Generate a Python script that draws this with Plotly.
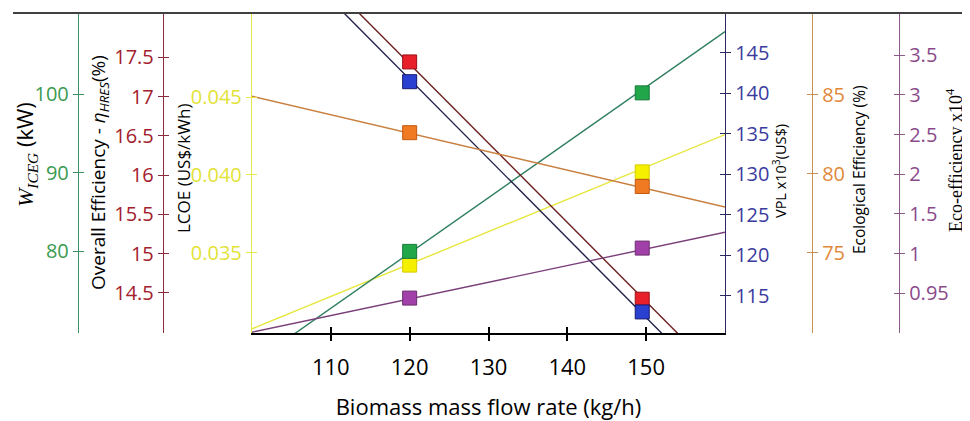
import plotly.graph_objects as go

# ---------------- data ----------------
x_points = [120, 149.5]          # biomass mass flow rate (kg/h) of the two cases
x_line = [100, 160]              # trend-line span (read at the plot edges)

W_iceg = [80.0, 100.2]           # kW
W_iceg_line = [65.7, 108.0]

eta_hres = [17.44, 14.42]        # %
eta_hres_line = [19.43, 13.38]

lcoe = [0.0342, 0.0402]          # US$/kWh
lcoe_line = [0.0301, 0.0426]

vpl = [141.4, 113.0]             # x10^3 US$
vpl_line = [161.3, 102.5]

ecol_eff = [82.6, 79.2]          # %
ecol_eff_line = [84.9, 77.9]

eco_eff = [0.44, 1.07]           # x10^4 (axis coordinate)
eco_eff_line = [0.01, 1.27]

x_ticks = [110, 120, 130, 140, 150]
W_ticks = [80, 90, 100]
eta_ticks = [14.5, 15, 15.5, 16, 16.5, 17, 17.5]
lcoe_ticks = [0.035, 0.040, 0.045]
lcoe_ticktext = ["0.035", "0.040", "0.045"]
vpl_ticks = [115, 120, 125, 130, 135, 140, 145]
ecol_ticks = [75, 80, 85]
eco_ticks = [0.5, 1, 1.5, 2, 2.5, 3, 3.5]
eco_ticktext = ["0.95", "1", "1.5", "2", "2.5", "3", "3.5"]

# ---------------- geometry (page body has an 8px margin) ----------------
OFF = 8
W, H = 970 - OFF, 421 - OFF
TOP, BOTTOM = 14 - OFF, 333 - OFF
PH = BOTTOM - TOP
px = lambda x: (x - OFF) / W
py = lambda y: (BOTTOM - (y - OFF)) / PH
FONT = "Open Sans"

fig = go.Figure()

series = [
    # yaxis, points, line, marker fill, marker outline, line colour
    ("y",  lcoe,     lcoe_line,     "#f5ef00", "#d8cc00", "#e6e63c"),
    ("y2", W_iceg,   W_iceg_line,   "#22a64a", "#17783a", "#2f7f5f"),
    ("y3", eta_hres, eta_hres_line, "#e8202a", "#9a1018", "#6a1f1f"),
    ("y4", vpl,      vpl_line,      "#2a40d0", "#18186e", "#20204a"),
    ("y5", ecol_eff, ecol_eff_line, "#f07a22", "#c05a12", "#c87f3f"),
    ("y6", eco_eff,  eco_eff_line,  "#a040a8", "#6e2e72", "#7a3f7a"),
]
for ax, pts, ln, fill, edge, lc in series:
    fig.add_trace(go.Scatter(x=x_line, y=ln, yaxis=ax, mode="lines",
                             line=dict(color=lc, width=1.4),
                             showlegend=False, hoverinfo="skip"))
    fig.add_trace(go.Scatter(x=x_points, y=pts, yaxis=ax, mode="markers",
                             marker=dict(symbol="square", size=14, color=fill,
                                         line=dict(color=edge, width=1)),
                             showlegend=False))

tickfont = lambda c: dict(family=FONT, size=20, color=c)

axes = {
    "yaxis": dict(range=[0.02983, 0.05036], tickvals=lcoe_ticks, ticktext=lcoe_ticktext,
                  color_line="#e8e84a", color_tick="#e2e238", side="left", anchor="x"),
    "yaxis2": dict(range=[69.6, 110.25], tickvals=W_ticks, ticktext=None,
                   color_line="#3a9060", color_tick="#3a9a50", side="left", anchor="free",
                   position=px(78)),
    "yaxis3": dict(range=[13.99, 18.05], tickvals=eta_ticks, ticktext=None,
                   color_line="#8b2a3a", color_tick="#a3202c", side="left", anchor="free",
                   position=px(163)),
    "yaxis4": dict(range=[110.4, 149.75], tickvals=vpl_ticks, ticktext=None,
                   color_line="#2a2a60", color_tick="#3b3b9e", side="right", anchor="x"),
    "yaxis5": dict(range=[69.94, 90.1], tickvals=ecol_ticks, ticktext=None,
                   color_line="#c89050", color_tick="#e08838", side="right", anchor="free",
                   position=px(812)),
    "yaxis6": dict(range=[0.0, 4.02], tickvals=eco_ticks, ticktext=eco_ticktext,
                   color_line="#8a5a8a", color_tick="#8a4a8a", side="right", anchor="free",
                   position=px(899)),
}

layout_axes = {}
twin_idx = 7
for name, a in axes.items():
    d = dict(range=a["range"], tickmode="array", tickvals=a["tickvals"],
             showgrid=False, zeroline=False, showline=True,
             linecolor=a["color_line"], linewidth=1.4,
             ticks="outside", ticklen=5, tickwidth=1.2, tickcolor=a["color_line"],
             tickfont=tickfont(a["color_tick"]), side=a["side"], anchor=a["anchor"],
             automargin=False)
    if a["ticktext"] is not None:
        d["ticktext"] = a["ticktext"]
    if "position" in a:
        d["position"] = a["position"]
    if name != "yaxis":
        d["overlaying"] = "y"
    layout_axes[name] = d
    # twin axis that draws the inner half of the crossing tick marks
    tw = dict(range=a["range"], tickmode="array", tickvals=a["tickvals"],
              showgrid=False, zeroline=False, showline=False, showticklabels=False,
              ticks="inside", ticklen=5, tickwidth=1.2, tickcolor=a["color_line"],
              side=a["side"], anchor=a["anchor"], overlaying="y", automargin=False)
    if "position" in a:
        tw["position"] = a["position"]
    layout_axes[f"yaxis{twin_idx}"] = tw
    fig.add_trace(go.Scatter(x=[None], y=[None], yaxis=f"y{twin_idx}",
                             showlegend=False, hoverinfo="skip"))
    twin_idx += 1

fig.add_trace(go.Scatter(x=[None], y=[None], xaxis="x2", yaxis="y",
                         showlegend=False, hoverinfo="skip"))

# vertical axis titles (placed as rotated annotations)
titles = [
    ("<span style='font-family:Liberation Serif'><i>W</i><sub><i>ICEG</i></sub></span> (kW)",
     25, 155, dict(family=FONT, size=22, color="black")),
    ("Overall Efficiency - <i>η</i><sub><i>HRES</i></sub>(%)",
     99, 173, dict(family=FONT, size=19, color="black")),
    ("LCOE (US$/kWh)", 183, 169, dict(family=FONT, size=17, color="black")),
    ("VPL x10<sup>3</sup>(US$)", 779, 171, dict(family=FONT, size=14.5, color="black")),
    ("Ecological Efficiency (%)", 859, 170, dict(family=FONT, size=15.5, color="black")),
    ("Eco-efficiency x10<sup>4</sup>", 955, 160,
     dict(family="Liberation Serif", size=18, color="black")),
]
annotations = [dict(text=t, x=px(x), y=py(y), xref="paper", yref="paper",
                    xanchor="center", yanchor="middle", textangle=-90,
                    showarrow=False, font=f) for t, x, y, f in titles]

fig.update_layout(
    width=W, height=H,
    margin=dict(l=0, r=0, t=TOP, b=H - BOTTOM),
    paper_bgcolor="white", plot_bgcolor="white",
    showlegend=False,
    xaxis=dict(domain=[px(252), px(725)], range=[100, 160], tickmode="array",
               tickvals=x_ticks, showgrid=False, zeroline=False, showline=True,
               linecolor="black", linewidth=1.5, ticks="outside", ticklen=6,
               tickwidth=1.5, tickcolor="black", ticklabelstandoff=8,
               tickfont=dict(family=FONT, size=22, color="black"),
               title=dict(text="Biomass mass flow rate (kg/h)",
                          font=dict(family=FONT, size=22, color="black"), standoff=20),
               automargin=False),
    xaxis2=dict(domain=[px(252), px(725)], range=[100, 160], tickmode="array",
                tickvals=x_ticks, overlaying="x", anchor="y", side="bottom",
                showgrid=False, zeroline=False, showline=False, showticklabels=False,
                ticks="inside", ticklen=6, tickwidth=1.5, tickcolor="black"),
    **layout_axes,
    annotations=annotations,
    shapes=[dict(type="line", xref="paper", yref="paper", x0=px(13), x1=px(963),
                 y0=py(13), y1=py(13), line=dict(color="black", width=1.5))],
)

fig.write_html("out.html")
